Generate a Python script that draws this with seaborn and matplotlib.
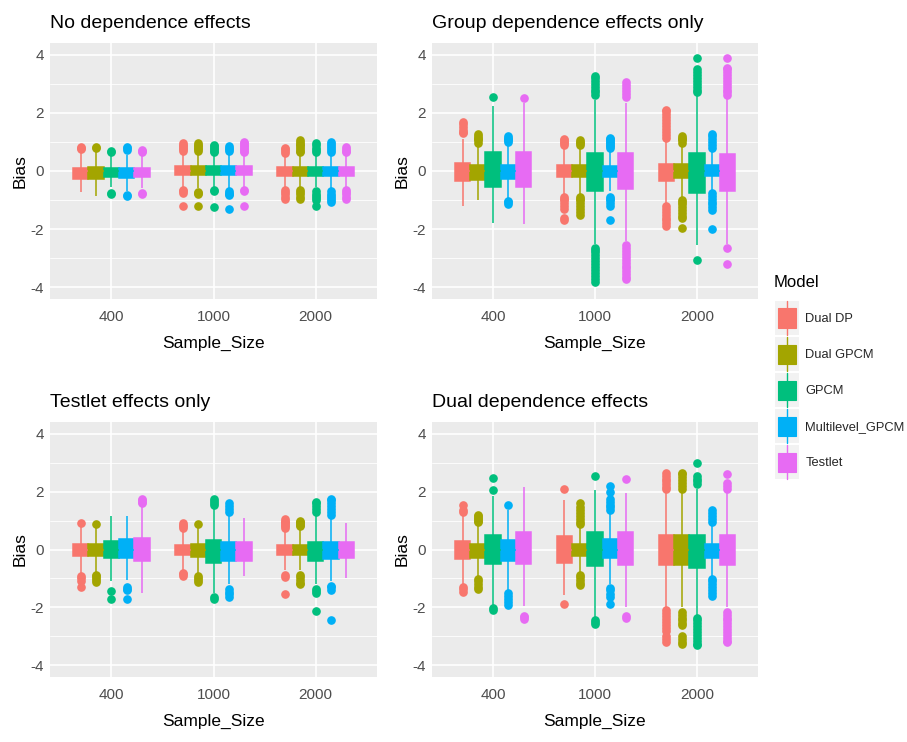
import numpy as np
import pandas as pd
import matplotlib
matplotlib.use("Agg")
import matplotlib.pyplot as plt
import seaborn as sns
from matplotlib.patches import Rectangle, Patch
from matplotlib.lines import Line2D
from matplotlib.legend_handler import HandlerBase
from matplotlib.ticker import FixedLocator

# ---------------- data ----------------
SIZES = ["400", "1000", "2000"]
MODELS = ["Dual DP", "Dual GPCM", "GPCM", "Multilevel_GPCM", "Testlet"]
COLORS = ["#F8766D", "#A3A500", "#00BF7D", "#00B0F6", "#E76BF3"]
TITLES = ["No dependence effects", "Group dependence effects only",
          "Testlet effects only", "Dual dependence effects"]
MEDIAN = 0.0  # median line is drawn in the box colour (not visible)

# rows: sample size 400 / 1000 / 2000 ; columns: models in MODELS order
NODEP_Q1 = [[-0.27, -0.28, -0.22, -0.25, -0.22],
            [-0.15, -0.15, -0.15, -0.15, -0.15],
            [-0.17, -0.17, -0.17, -0.18, -0.17]]
NODEP_Q3 = [[0.12, 0.13, 0.12, 0.10, 0.12],
            [0.17, 0.17, 0.17, 0.17, 0.17],
            [0.14, 0.15, 0.14, 0.15, 0.14]]
NODEP_WLO = [[-0.72, -0.86, -0.55, -0.70, -0.60],
             [-0.55, -0.60, -0.60, -0.60, -0.60],
             [-0.55, -0.55, -0.55, -0.60, -0.55]]
NODEP_WHI = [[0.65, 0.70, 0.50, 0.55, 0.50],
             [0.55, 0.60, 0.60, 0.60, 0.60],
             [0.55, 0.55, 0.55, 0.60, 0.55]]
NODEP_OUT = [
    [[0.74, 0.78, 0.82], [0.78, 0.82], [0.64, 0.68, -0.75, -0.78],
     [0.72, 0.78, 0.84, -0.82, -0.86], [0.64, 0.68, 0.72, -0.74, -0.78]],
    [[0.7, 0.75, 0.8, 0.85, 0.9, 0.95, -0.66, -0.7, -0.74, -1.22],
     [0.7, 0.75, 0.8, 0.85, 0.9, 0.95, -0.72, -0.76, -0.8, -1.2],
     [0.66, 0.7, 0.75, 0.8, 0.85, 0.9, -0.66, -0.7, -1.25],
     [0.7, 0.75, 0.8, 0.85, -0.7, -0.75, -0.8, -0.84, -1.3],
     [0.66, 0.7, 0.75, 0.8, 0.85, 0.9, 0.95, 1.0, -0.66, -0.7, -1.22]],
    [[0.62, 0.68, 0.74, 0.8, -0.65, -0.72, -0.8, -0.88, -0.95],
     [0.64, 0.7, 0.76, 0.82, 0.88, 0.94, 1.0, 1.06, -0.66, -0.72, -0.8, -0.88, -0.95],
     [0.65, 0.72, 0.8, 0.88, 0.95, -0.7, -0.78, -0.86, -0.94, -0.98, -1.22],
     [0.66, 0.72, 0.78, 0.85, 0.92, 0.98, -0.7, -0.78, -0.86, -0.94, -1.0, -1.05],
     [0.65, 0.7, 0.76, 0.83, -0.65, -0.72, -0.8, -0.88, -0.95]],
]

GROUP_Q1 = [[-0.35, -0.30, -0.56, -0.28, -0.55],
            [-0.22, -0.22, -0.68, -0.20, -0.63],
            [-0.33, -0.25, -0.75, -0.18, -0.70]]
GROUP_Q3 = [[0.28, 0.20, 0.67, 0.22, 0.65],
            [0.21, 0.21, 0.61, 0.18, 0.61],
            [0.25, 0.23, 0.61, 0.20, 0.60]]
GROUP_WLO = [[-1.20, -1.00, -1.80, -0.95, -1.83],
             [-0.80, -0.80, -2.50, -0.70, -2.40],
             [-1.10, -0.90, -2.55, -0.70, -2.50]]
GROUP_WHI = [[1.10, 0.90, 2.25, 0.90, 2.33],
             [0.80, 0.80, 2.45, 0.70, 2.35],
             [1.05, 0.90, 2.60, 0.70, 2.50]]
GROUP_OUT = [
    [[1.3, 1.35, 1.4, 1.5, 1.6, 1.68],
     [0.97, 1.05, 1.1, 1.15, 1.2, 1.28],
     [2.55],
     [1.0, 1.05, 1.1, 1.15, 1.2, -1.04, -1.08, -1.12],
     [2.52]],
    [[0.88, 0.95, 1.0, 1.05, 1.1, -0.9, -0.95, -1.0, -1.1, -1.2, -1.3, -1.62, -1.67],
     [0.88, 0.95, 1.0, 1.07, -0.9, -0.95, -1.0, -1.1, -1.2, -1.3, -1.4, -1.52],
     [2.6, 2.7, 2.8, 2.9, 3.0, 3.1, 3.2, 3.25, -2.65, -2.7, -2.8, -2.9, -3.0,
      -3.1, -3.2, -3.3, -3.4, -3.5, -3.6, -3.7, -3.8],
     [0.8, 0.85, 0.9, 0.95, 1.0, 1.05, 1.1, 1.13, -0.9, -0.95, -1.0, -1.1, -1.2, -1.67],
     [2.55, 2.65, 2.75, 2.85, 2.95, 3.05, -2.55, -2.65, -2.75, -2.85, -2.95,
      -3.05, -3.15, -3.25, -3.35, -3.45, -3.55, -3.65, -3.7]],
    [[1.15, 1.25, 1.35, 1.45, 1.55, 1.65, 1.75, 1.85, 1.95, 2.05, 2.1,
      -1.22, -1.3, -1.4, -1.5, -1.6, -1.7, -1.8, -1.9],
     [0.97, 1.05, 1.1, 1.15, 1.22, -0.98, -1.05, -1.15, -1.25, -1.35, -1.45,
      -1.55, -1.6, -1.95],
     [2.7, 2.8, 2.9, 3.0, 3.1, 3.2, 3.3, 3.4, 3.5, 3.9, -3.05],
     [0.8, 0.9, 1.0, 1.1, 1.2, 1.28, -0.77, -0.85, -0.95, -1.05, -1.15, -1.25,
      -1.35, -2.0],
     [2.6, 2.7, 2.8, 2.9, 3.0, 3.1, 3.2, 3.3, 3.4, 3.5, 3.55, 3.9, -2.66, -3.2]],
]

TESTLET_Q1 = [[-0.22, -0.22, -0.28, -0.30, -0.41],
              [-0.20, -0.26, -0.45, -0.38, -0.38],
              [-0.20, -0.20, -0.38, -0.33, -0.30]]
TESTLET_Q3 = [[0.20, 0.20, 0.30, 0.36, 0.39],
              [0.17, 0.18, 0.33, 0.27, 0.27],
              [0.16, 0.16, 0.27, 0.27, 0.27]]
TESTLET_WLO = [[-0.80, -0.80, -1.08, -1.04, -1.50],
               [-0.70, -0.85, -1.50, -1.20, -0.93],
               [-0.70, -0.70, -1.20, -1.10, -0.98]]
TESTLET_WHI = [[0.80, 0.80, 1.16, 1.15, 1.45],
               [0.70, 0.80, 1.45, 1.20, 1.08],
               [0.68, 0.68, 1.20, 1.10, 0.90]]
TESTLET_OUT = [
    [[0.9, -0.9, -1.0, -1.1, -1.3],
     [0.87, -0.87, -0.9, -1.0, -1.05, -1.12],
     [-1.42, -1.72],
     [-1.3, -1.35, -1.4, -1.7],
     [1.6, 1.65, 1.7, 1.75]],
    [[0.75, 0.8, 0.85, 0.9, -0.8, -0.85, -0.9],
     [0.87, -0.93, -1.0, -1.05, -1.12],
     [1.52, 1.6, 1.68, 1.75, -1.65, -1.72],
     [1.3, 1.4, 1.5, 1.6, -1.36, -1.45, -1.55, -1.65],
     []],
    [[0.75, 0.8, 0.85, 0.9, 0.95, 1.0, 1.05, -0.88, -0.95, -1.55],
     [0.8, 0.85, 0.9, 0.95, 1.0, -0.88, -0.95, -1.05, -1.15, -1.2],
     [1.3, 1.4, 1.5, 1.6, 1.65, -1.36, -1.42, -1.5, -2.12],
     [1.2, 1.3, 1.4, 1.5, 1.6, 1.7, 1.75, -1.25, -1.3, -1.4, -2.45],
     []],
]

DUAL_Q1 = [[-0.33, -0.28, -0.50, -0.38, -0.49],
           [-0.47, -0.22, -0.58, -0.30, -0.53],
           [-0.53, -0.55, -0.64, -0.28, -0.55]]
DUAL_Q3 = [[0.30, 0.20, 0.50, 0.33, 0.60],
           [0.45, 0.20, 0.62, 0.36, 0.60],
           [0.50, 0.50, 0.50, 0.20, 0.50]]
DUAL_WLO = [[-1.20, -0.90, -1.90, -1.40, -1.96],
            [-1.56, -0.80, -2.35, -1.20, -2.00],
            [-2.00, -2.00, -2.30, -0.95, -2.00]]
DUAL_WHI = [[1.20, 0.90, 1.85, 1.35, 2.16],
            [1.70, 0.80, 2.05, 1.30, 1.95],
            [2.00, 2.00, 2.10, 0.90, 2.00]]
DUAL_OUT = [
    [[1.3, 1.35, 1.52, -1.28, -1.35, -1.45],
     [0.95, 1.0, 1.05, 1.1, 1.15, 1.2, -1.02, -1.1, -1.2, -1.3, -1.35],
     [2.05, 2.48, -2.02, -2.08],
     [1.55, -1.5, -1.6, -1.7, -1.8, -1.93],
     [-2.28, -2.33, -2.4]],
    [[2.1, -1.88],
     [0.87, 0.95, 1.05, 1.15, 1.25, 1.35, 1.45, 1.6, -0.87, -0.95, -1.05, -1.15, -1.22],
     [2.52, -2.42, -2.5, -2.58],
     [1.38, 1.45, 1.55, 1.65, 1.75, 2.0, 2.2, -1.32, -1.4, -1.55, -1.65, -1.88],
     [2.42, -2.28, -2.35]],
    [[2.08, 2.15, 2.25, 2.35, 2.45, 2.55, 2.65, -2.1, -2.2, -2.3, -2.4, -2.5,
      -2.6, -2.7, -2.8, -3.0, -3.1, -3.2],
     [2.1, 2.2, 2.3, 2.4, 2.5, 2.6, 2.65, -2.15, -2.25, -2.35, -2.45, -2.55,
      -2.6, -3.0, -3.1, -3.2, -3.25],
     [2.25, 2.35, 2.45, 2.55, 3.0, -2.38, -2.45, -2.55, -2.65, -2.75, -2.85,
      -2.95, -3.05, -3.15, -3.25, -3.3],
     [0.95, 1.05, 1.15, 1.25, 1.35, -1.02, -1.1, -1.2, -1.3, -1.4, -1.5, -1.6],
     [2.1, 2.2, 2.3, 2.6, -2.15, -2.25, -2.35, -2.45, -2.55, -2.65, -2.75,
      -2.85, -2.95, -3.05, -3.15, -3.2]],
]

PANELS = [
    (NODEP_Q1, NODEP_Q3, NODEP_WLO, NODEP_WHI, NODEP_OUT),
    (GROUP_Q1, GROUP_Q3, GROUP_WLO, GROUP_WHI, GROUP_OUT),
    (TESTLET_Q1, TESTLET_Q3, TESTLET_WLO, TESTLET_WHI, TESTLET_OUT),
    (DUAL_Q1, DUAL_Q3, DUAL_WLO, DUAL_WHI, DUAL_OUT),
]


def long_table(q1s, q3s, wlos, whis, outs, m=200):
    """Observation table whose boxplot statistics equal the read values."""
    rows = []
    for i, size in enumerate(SIZES):
        for j, model in enumerate(MODELS):
            vals = (list(outs[i][j]) + [wlos[i][j], whis[i][j]]
                    + [q1s[i][j]] * m + [MEDIAN] * m + [q3s[i][j]] * m)
            rows.extend((size, model, v) for v in vals)
    return pd.DataFrame(rows, columns=["Sample_Size", "Model", "Bias"])


# ---------------- style ----------------
sns.set_theme(style="darkgrid")
FONT = ["Liberation Sans", "DejaVu Sans"]
plt.rcParams["font.family"] = FONT
plt.rcParams["axes.unicode_minus"] = False

fig = plt.figure(figsize=(9.07, 7.42), dpi=100)
W, H = 907.0, 742.0
boxes_px = [(50, 43, 377, 299), (432, 43, 758, 299),
            (50, 422, 377, 677), (432, 422, 758, 677)]

for k, (px, data) in enumerate(zip(boxes_px, PANELS)):
    x0, y0, x1, y1 = px
    ax = fig.add_axes([x0 / W, 1 - y1 / H, (x1 - x0) / W, (y1 - y0) / H])
    ax.set_facecolor("#EBEBEB")
    df = long_table(*data)
    sns.boxplot(data=df, x="Sample_Size", y="Bias", hue="Model",
                order=SIZES, hue_order=MODELS, palette=COLORS,
                width=0.75, gap=0, whis=1.5, showcaps=False,
                saturation=1, linewidth=1.1, fliersize=5.2,
                flierprops=dict(marker="o"), legend=False, ax=ax)
    for cont in ax.containers:
        for i, box in enumerate(cont.boxes):
            col = box.get_facecolor()
            box.set_edgecolor(col)
            cont.medians[i].set_color(col)
            cont.whiskers[2 * i].set_color(col)
            cont.whiskers[2 * i + 1].set_color(col)
            fl = cont.fliers[i]
            fl.set_markerfacecolor(col)
            fl.set_markeredgecolor(col)
            fl.set_alpha(1)

    ax.set_xlim(-0.6, 2.6)
    ax.set_ylim(-4.4, 4.4)
    ax.set_yticks([-4, -2, 0, 2, 4])
    ax.set_yticklabels(["-4", "-2", "0", "2", "4"])
    ax.yaxis.set_minor_locator(FixedLocator([-3, -1, 1, 3]))
    ax.grid(True, which="major", color="white", linewidth=1.2)
    ax.grid(True, which="minor", axis="y", color="white", linewidth=0.6)
    ax.grid(False, which="minor", axis="x")
    ax.set_axisbelow(True)
    for s in ax.spines.values():
        s.set_visible(False)
    ax.tick_params(which="major", width=0.9, color="#333333",
                   labelsize=11, labelcolor="#4D4D4D")
    ax.tick_params(axis="x", length=4.3, pad=3.5)
    ax.tick_params(axis="y", length=2.2, pad=2)
    ax.tick_params(which="minor", length=0)
    ax.set_xlabel("Sample_Size", fontsize=12.5, labelpad=9, color="black")
    ax.set_ylabel("Bias", fontsize=12.5, labelpad=2, color="black")
    ax.set_title(TITLES[k], loc="left", fontsize=14, pad=11, color="black")


class BoxKey(HandlerBase):
    def create_artists(self, legend, orig_handle, xdescent, ydescent,
                       width, height, fontsize, trans):
        col = orig_handle.get_facecolor()
        x, y = -xdescent, -ydescent
        bg = Rectangle((x, y), width, height, facecolor="#F2F2F2",
                       edgecolor="none", transform=trans)
        ln = Line2D([x + width / 2] * 2, [y, y + height], color=col,
                    lw=1.0, transform=trans)
        bx = Rectangle((x + width * 0.13, y + height * 0.22), width * 0.74,
                       height * 0.56, facecolor=col, edgecolor=col, lw=0.8,
                       transform=trans)
        return [bg, ln, bx]


handles = [Patch(facecolor=c, label=m) for c, m in zip(COLORS, MODELS)]
LEG_FS = 9.3
leg = fig.legend(handles=handles, labels=MODELS, loc="upper left",
                 bbox_to_anchor=(775 / W, 1 - 301 / H), frameon=False,
                 handler_map={Patch: BoxKey()}, handlelength=1.85,
                 handleheight=3.675, labelspacing=0.16, handletextpad=0.5,
                 borderpad=0, borderaxespad=0,
                 prop=dict(family=FONT, size=LEG_FS))
fig.text(774 / W, 1 - 287 / H, "Model", fontsize=12, ha="left",
         va="baseline", color="black")

fig.savefig("out.png", dpi=100)
